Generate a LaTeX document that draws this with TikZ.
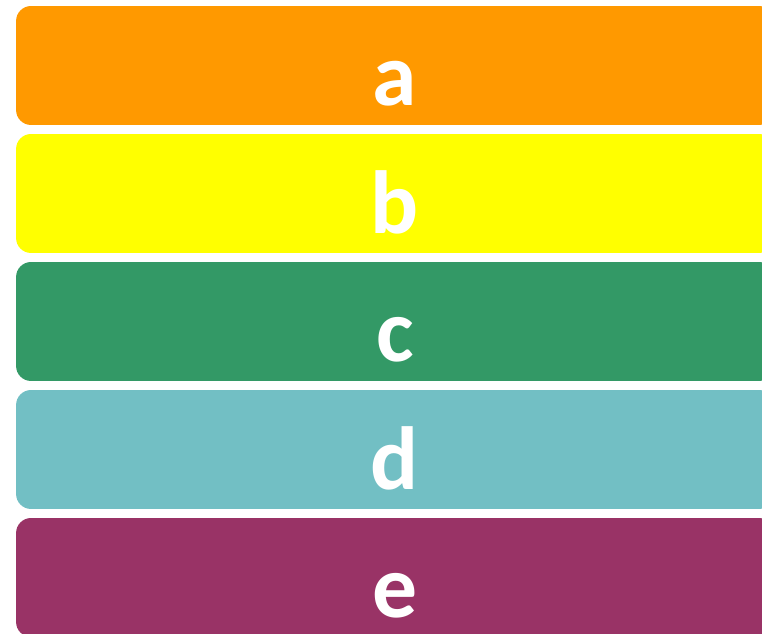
\documentclass[tikz,border=0pt]{standalone}
\usepackage{fontspec}
\setmainfont{Carlito}
\usepackage{tikz}
\usepackage{xcolor}
\usetikzlibrary{positioning}
\definecolor{BOrange}{RGB}{255,153,0}
\definecolor{BYellow}{RGB}{255,255,0}
\definecolor{BGreen}{RGB}{51,153,102}
\definecolor{BTeal}{RGB}{114,191,196}
\definecolor{BPlum}{RGB}{153,51,102}

\begin{document}
\begin{tikzpicture}[x=0.02cm,y=-0.02cm,
    bar/.style={
      rounded corners=0.3cm,
      fill=#1,
      draw=none,
      minimum width=15.16cm,
      minimum height=2.38cm,
      inner sep=0pt
    },
    lbl/.style={
      text=white,
      font=\fontsize{51}{51}\selectfont\bfseries,
      inner sep=0pt,
      anchor=base
    }]
  \clip (0,0) rectangle (762,634);
  \useasboundingbox (0,0) rectangle (762,634);
  \foreach \name/\col/\top in {a/BOrange/6,b/BYellow/134,c/BGreen/262,d/BTeal/390,e/BPlum/518}{
    \node[bar=\col] (bar-\name) at (395,\top+59.5) {};
    \node[lbl] (lbl-\name) at ([yshift=0.4cm]bar-\name.south) {\name};
  }
\end{tikzpicture}
\end{document}
